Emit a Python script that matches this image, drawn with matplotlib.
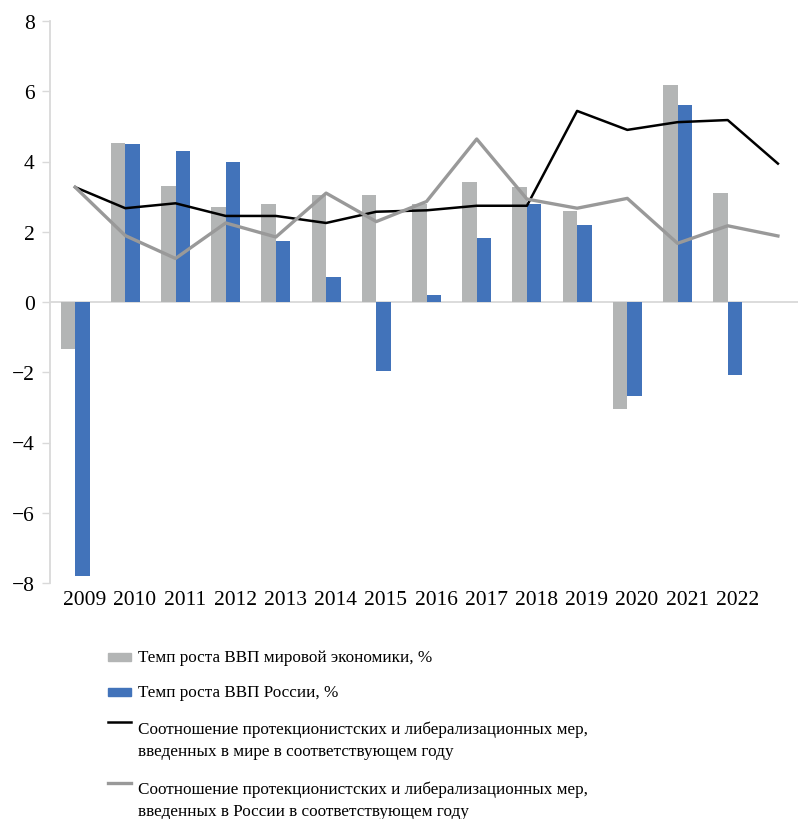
import matplotlib
matplotlib.use("Agg")
import matplotlib.pyplot as plt
import matplotlib.transforms as mtransforms
from matplotlib.patches import Rectangle
from matplotlib.lines import Line2D
import numpy as np

plt.rcParams['font.family'] = ['Liberation Serif', 'DejaVu Serif']
plt.rcParams['axes.unicode_minus'] = True

# Years on the category axis (the last slot carries only the line values)
years = ["2009", "2010", "2011", "2012", "2013", "2014", "2015", "2016",
         "2017", "2018", "2019", "2020", "2021", "2022", ""]

# GDP growth, %
gdp_world = [-1.35, 4.53, 3.30, 2.70, 2.80, 3.05, 3.05, 2.79, 3.41, 3.27,
             2.59, -3.05, 6.19, 3.09]
gdp_russia = [-7.8, 4.5, 4.3, 4.0, 1.75, 0.72, -1.97, 0.2, 1.81, 2.8,
              2.2, -2.67, 5.6, -2.07]

# Ratio of protectionist to liberalising measures
ratio_world = [3.27, 2.67, 2.81, 2.45, 2.45, 2.25, 2.57, 2.61, 2.74, 2.74,
               5.44, 4.90, 5.12, 5.18, 3.94]
ratio_russia = [3.27, 1.89, 1.24, 2.25, 1.85, 3.10, 2.29, 2.86, 4.64, 2.93,
                2.67, 2.95, 1.67, 2.17, 1.88]

labels = [
    ["Темп роста ВВП мировой экономики, %"],
    ["Темп роста ВВП России, %"],
    ["Соотношение протекционистских и либерализационных мер,",
     "введенных в мире в соответствующем году"],
    ["Соотношение протекционистских и либерализационных мер,",
     "введенных в России в соответствующем году"],
]

c_gray_bar = "#b3b5b5"
c_blue_bar = "#4273ba"
c_black = "#000000"
c_gray_line = "#999999"
c_axis = "#d9d9d9"

W, H = 798, 820
fig = plt.figure(figsize=(W / 100, H / 100), dpi=100)
ax = fig.add_axes([50 / W, (H - 584) / H, 1.0 - 50 / W, (584 - 22) / H])

n_bar = len(gdp_world)
xb = np.arange(n_bar)
xl = np.arange(len(ratio_world))
w = 0.29

ax.bar(xb - w / 2, gdp_world, width=w, color=c_gray_bar, zorder=2)
ax.bar(xb + w / 2, gdp_russia, width=w, color=c_blue_bar, zorder=2)
ax.plot(xl, ratio_world, color=c_black, lw=1.8, zorder=3)
ax.plot(xl, ratio_russia, color=c_gray_line, lw=2.4, zorder=3)

ax.axhline(0, color=c_axis, lw=1.3, zorder=1)

ax.set_ylim(-8, 8)
ax.set_xlim(-0.5, 14.4)
ax.set_yticks(np.arange(-8, 9, 2))
ax.set_xticks(xl)
ax.set_xticklabels(years)

for s in ["top", "right", "bottom"]:
    ax.spines[s].set_visible(False)
ax.spines["left"].set_color(c_axis)
ax.spines["left"].set_linewidth(1.3)

ax.tick_params(axis="y", length=6, width=1.0, color=c_axis, labelsize=15.5, pad=5)
ax.tick_params(axis="x", length=0, labelsize=15.5, pad=5)

# year labels sit slightly to the right of their category centres
offset = mtransforms.ScaledTranslation(9.5 / 100, 0, fig.dpi_scale_trans)
for lab in ax.get_xticklabels():
    lab.set_transform(lab.get_transform() + offset)

# Legend below the plot, drawn in pixel positions of the figure
def fy(py):
    return 1 - py / H

leg_fs = 12.3
text_x = 138 / W
# row 1: grey bar swatch
fig.add_artist(Rectangle((108 / W, fy(662)), 23 / W, 8 / H,
                         transform=fig.transFigure, color=c_gray_bar))
# row 2: blue bar swatch
fig.add_artist(Rectangle((108 / W, fy(697)), 23 / W, 8 / H,
                         transform=fig.transFigure, color=c_blue_bar))
# rows 3 and 4: line swatches
fig.add_artist(Line2D([108 / W, 131 / W], [fy(723), fy(723)],
                      transform=fig.transFigure, color=c_black, lw=1.8))
fig.add_artist(Line2D([108 / W, 131 / W], [fy(784), fy(784)],
                      transform=fig.transFigure, color=c_gray_line, lw=2.4))

rows_y = [[658], [693], [730, 752], [790, 812]]
for lines, ys in zip(labels, rows_y):
    for line, py in zip(lines, ys):
        fig.text(text_x, fy(py), line, fontsize=leg_fs, va="center", ha="left")

fig.savefig("out.png", dpi=100)
